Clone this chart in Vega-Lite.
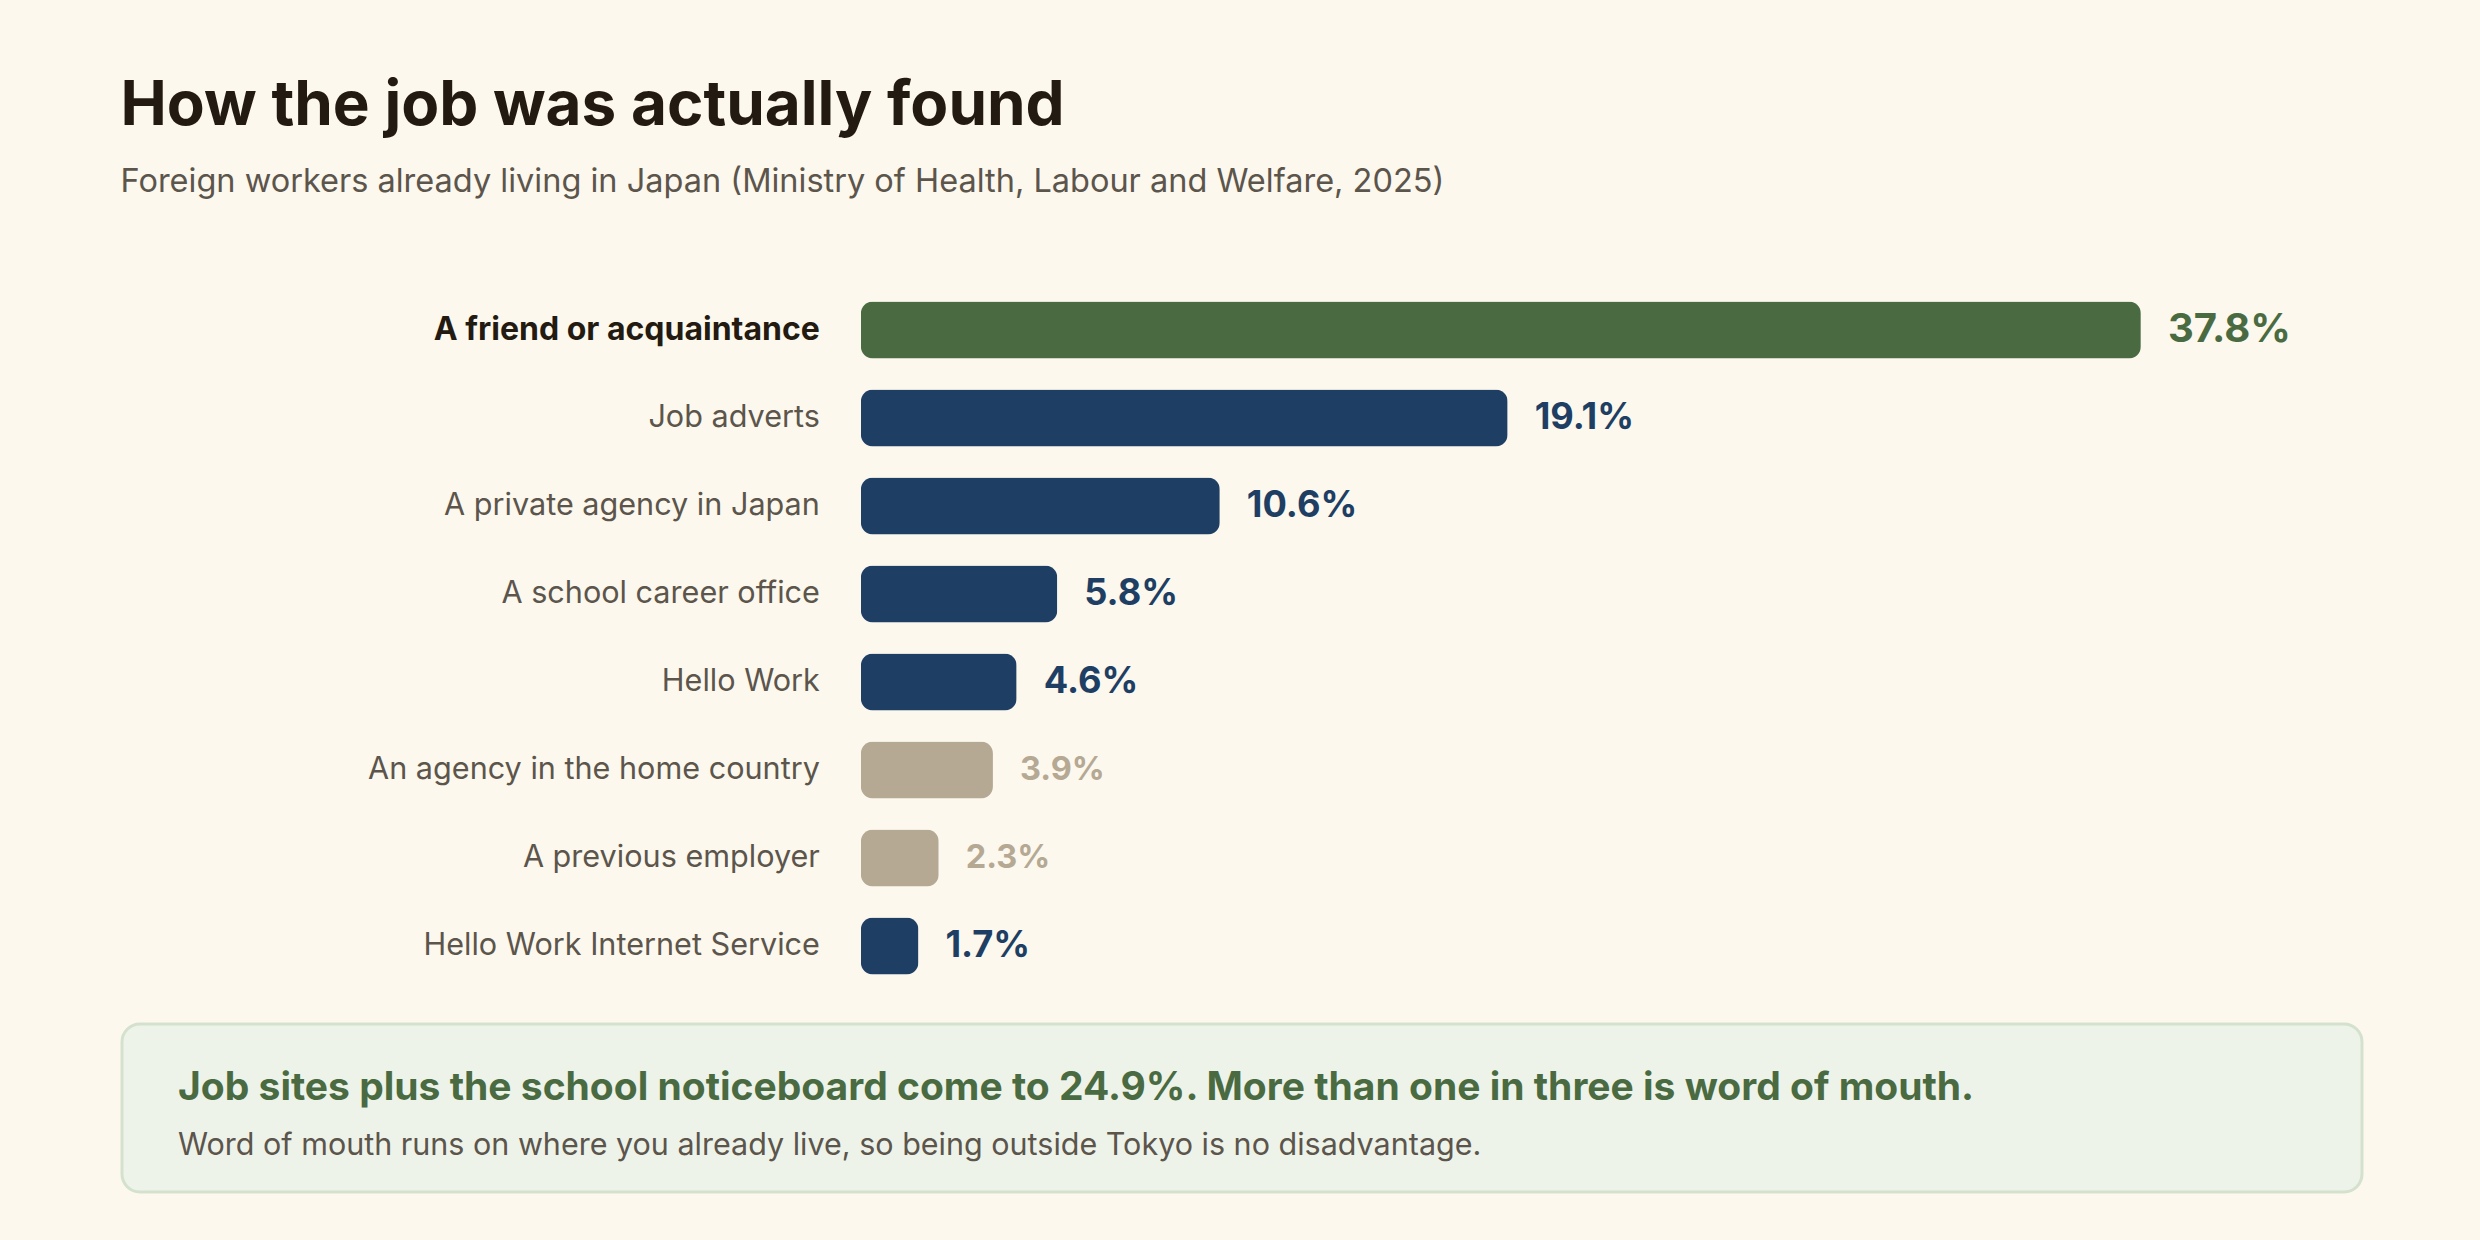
{
  "$schema": "https://vega.github.io/schema/vega-lite/v6.json",
  "background": "#fcf8ee",
  "padding": {"left": 120, "right": 120, "top": 74, "bottom": 50},
  "title": {
    "text": "How the job was actually found",
    "subtitle": "Foreign workers already living in Japan (Ministry of Health, Labour and Welfare, 2025)",
    "anchor": "start",
    "font": "Inter",
    "fontSize": 62,
    "fontWeight": "bold",
    "color": "#231b12",
    "subtitleFont": "Inter",
    "subtitleFontSize": 32.5,
    "subtitleFontWeight": "normal",
    "subtitleColor": "#5c554c",
    "subtitlePadding": 28,
    "offset": 87
  },
  "config": {
    "view": {"stroke": null},
    "font": "Inter"
  },
  "spacing": 32,
  "vconcat": [
    {
      "width": 2240,
      "height": {"step": 88},
      "data": {
        "values": [
          {"label": "A friend or acquaintance", "pct": 37.8, "shown": "37.8%", "group": "top"},
          {"label": "Job adverts", "pct": 19.1, "shown": "19.1%", "group": "main"},
          {"label": "A private agency in Japan", "pct": 10.6, "shown": "10.6%", "group": "main"},
          {"label": "A school career office", "pct": 5.8, "shown": "5.8%", "group": "main"},
          {"label": "Hello Work", "pct": 4.6, "shown": "4.6%", "group": "main"},
          {"label": "An agency in the home country", "pct": 3.9, "shown": "3.9%", "group": "muted"},
          {"label": "A previous employer", "pct": 2.3, "shown": "2.3%", "group": "muted"},
          {"label": "Hello Work Internet Service", "pct": 1.7, "shown": "1.7%", "group": "main"}
        ]
      },
      "encoding": {
        "y": {
          "field": "label",
          "type": "nominal",
          "sort": null,
          "axis": null,
          "scale": {"paddingInner": 0.352, "paddingOuter": 0.176}
        }
      },
      "layer": [
        {
          "mark": {"type": "bar", "cornerRadius": 12},
          "encoding": {
            "x": {
              "field": "pct",
              "type": "quantitative",
              "axis": null,
              "scale": {"domain": [-21.82, 44.33], "nice": false}
            },
            "color": {
              "field": "group",
              "type": "nominal",
              "legend": null,
              "scale": {"domain": ["top", "main", "muted"], "range": ["#4a6b42", "#1e3f63", "#b5a994"]}
            }
          }
        },
        {
          "mark": {"type": "text", "align": "left", "baseline": "middle", "dx": 27, "fontWeight": "bold"},
          "encoding": {
            "x": {"field": "pct", "type": "quantitative"},
            "text": {"field": "shown"},
            "color": {"field": "group", "type": "nominal", "legend": null},
            "size": {
              "field": "group",
              "type": "nominal",
              "legend": null,
              "scale": {"domain": ["top", "main", "muted"], "range": [40, 32.5, 32.5]}
            }
          }
        },
        {
          "transform": [{"filter": "datum.group == 'top'"}],
          "mark": {"type": "text", "align": "right", "baseline": "middle", "dx": -41, "fontSize": 32, "fontWeight": "bold", "color": "#231b12"},
          "encoding": {
            "x": {"datum": 0, "type": "quantitative"},
            "text": {"field": "label"}
          }
        },
        {
          "transform": [{"filter": "datum.group != 'top'"}],
          "mark": {"type": "text", "align": "right", "baseline": "middle", "dx": -41, "fontSize": 30.6, "fontWeight": "normal", "color": "#5c554c"},
          "encoding": {
            "x": {"datum": 0, "type": "quantitative"},
            "text": {"field": "label"}
          }
        }
      ]
    },
    {
      "width": 2240,
      "height": 168,
      "view": {"fill": "#eef3ea", "stroke": "#d3e1cd", "strokeWidth": 3, "cornerRadius": 18},
      "data": {
        "values": [
          {"line": "head", "text": "Job sites plus the school noticeboard come to 24.9%. More than one in three is word of mouth."},
          {"line": "note", "text": "Word of mouth runs on where you already live, so being outside Tokyo is no disadvantage."}
        ]
      },
      "encoding": {
        "x": {"datum": 0, "type": "quantitative", "axis": null, "scale": {"domain": [0, 1]}},
        "y": {"field": "line", "type": "nominal", "sort": null, "axis": null, "scale": {"type": "point", "padding": 0.974}},
        "text": {"field": "text"}
      },
      "layer": [
        {
          "transform": [{"filter": "datum.line == 'head'"}],
          "mark": {"type": "text", "align": "left", "baseline": "middle", "dx": 56, "dy": 8, "fontSize": 39, "fontWeight": "bold", "color": "#4a6b42"}
        },
        {
          "transform": [{"filter": "datum.line == 'note'"}],
          "mark": {"type": "text", "align": "left", "baseline": "middle", "dx": 56, "dy": 10, "fontSize": 30.5, "fontWeight": "normal", "color": "#5c554c"}
        }
      ]
    }
  ]
}
